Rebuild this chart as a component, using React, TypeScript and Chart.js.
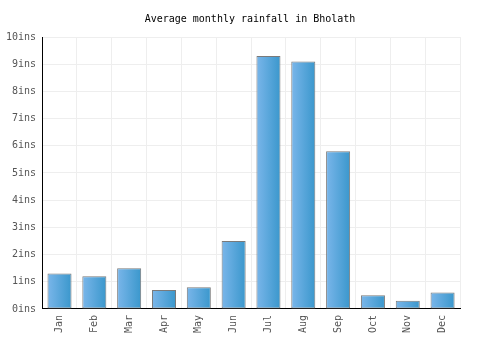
import React, { useEffect, useRef } from "react";
import { Chart, registerables } from "chart.js";

Chart.register(...registerables);

const months = ["Jan", "Feb", "Mar", "Apr", "May", "Jun", "Jul", "Aug", "Sep", "Oct", "Nov", "Dec"];
const rainfall = [1.3, 1.2, 1.5, 0.7, 0.8, 2.5, 9.3, 9.1, 5.8, 0.5, 0.3, 0.6];
const titleText = "Average monthly rainfall in Bholath";
const unit = "ins";

const FONT = "'DejaVu Sans Mono', monospace";

export default function App() {
  const ref = useRef<HTMLCanvasElement | null>(null);

  useEffect(() => {
    document.body.style.margin = "0";
    const canvas = ref.current;
    if (!canvas) return;
    const barPct = 0.69;
    const chart = new Chart(canvas, {
      type: "bar",
      data: {
        labels: months,
        datasets: [
          {
            data: rainfall,
            borderColor: "#7a7a7a",
            borderWidth: 1,
            borderSkipped: false,
            barPercentage: barPct,
            categoryPercentage: 1,
            backgroundColor: (ctx: any) => {
              const c = ctx.chart;
              const xs = c.scales?.x;
              if (!xs || ctx.dataIndex === undefined) return "#5aa8e0";
              const center = xs.getPixelForValue(ctx.dataIndex);
              const half = (xs.width / months.length) * barPct / 2;
              if (!isFinite(center) || !isFinite(half) || half <= 0) return "#5aa8e0";
              const g = c.ctx.createLinearGradient(center - half, 0, center + half, 0);
              g.addColorStop(0, "#7ab6ea");
              g.addColorStop(1, "#3a97cc");
              return g;
            },
          },
        ],
      },
      options: {
        animation: false,
        responsive: false,
        layout: { padding: { left: 0, right: 0, top: 0, bottom: 11 } },
        plugins: {
          legend: { display: false },
          tooltip: { enabled: false },
          title: {
            display: true,
            text: titleText,
            color: "#000",
            font: { family: FONT, size: 10, weight: "normal" },
            padding: { top: 13, bottom: 12 },
          },
        },
        scales: {
          x: {
            grid: { color: "#eeeeee", drawTicks: false, offset: true },
            border: { color: "#000", width: 1 },
            ticks: {
              color: "#555",
              font: { family: FONT, size: 10 },
              minRotation: 90,
              maxRotation: 90,
              padding: 6,
            },
          },
          y: {
            min: 0,
            max: 10,
            grid: { color: "#eeeeee", drawTicks: false },
            border: { color: "#000", width: 1 },
            ticks: {
              stepSize: 1,
              color: "#555",
              font: { family: FONT, size: 10 },
              padding: 6,
              callback: (v: any) => v + unit,
            },
          },
          yRight: {
            position: "right",
            min: 0,
            max: 10,
            grid: { display: false, drawOnChartArea: false, drawTicks: false },
            border: { display: false },
            ticks: { display: false },
            afterFit: (s: any) => {
              s.width = 40;
            },
          },
        },
      },
    });
    return () => chart.destroy();
  }, []);

  return (
    <div style={{ width: 500, height: 350 }}>
      <canvas ref={ref} width={500} height={350} style={{ display: "block" }} />
    </div>
  );
}
